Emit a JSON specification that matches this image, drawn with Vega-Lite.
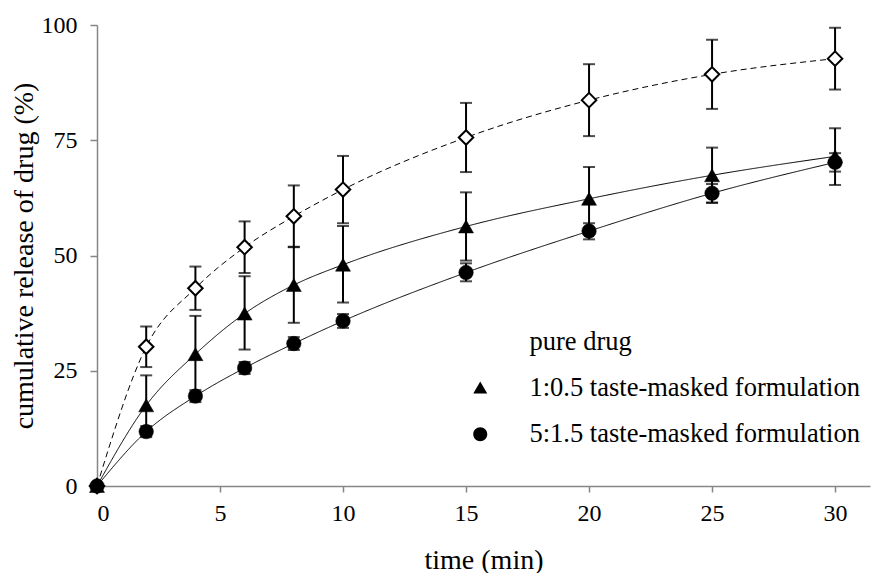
{
  "$schema": "https://vega.github.io/schema/vega-lite/v6.json",
  "width": 773,
  "height": 461,
  "autosize": {"type": "none"},
  "padding": {"left": 97, "top": 25, "right": 2, "bottom": 87},
  "background": "white",
  "config": {
    "view": {"stroke": null},
    "font": "Liberation Serif",
    "axis": {
      "grid": false,
      "domainColor": "#868686",
      "domainWidth": 1.5,
      "tickColor": "#868686",
      "tickWidth": 1.5,
      "labelFont": "Liberation Serif",
      "labelFontSize": 24,
      "labelColor": "black",
      "titleFont": "Liberation Serif",
      "titleFontSize": 28,
      "titleFontWeight": "normal",
      "titleColor": "black"
    },
    "legend": {
      "orient": "none", "legendX": 370, "legendY": 304,
      "title": null, "padding": 0,
      "labelFont": "Liberation Serif", "labelFontSize": 26.5, "labelColor": "black",
      "labelOffset": 36, "rowPadding": 19, "symbolSize": 196, "labelLimit": 600,
      "symbolStrokeWidth": 1.2, "symbolStrokeColor": "black", "symbolOpacity": 1
    }
  },
  "data": {
    "values": [
      {"series": "pure drug", "time": 0, "mean": 0, "lo": 0, "hi": 0},
      {"series": "pure drug", "time": 2, "mean": 30.2, "lo": 25.8, "hi": 34.6},
      {"series": "pure drug", "time": 4, "mean": 42.9, "lo": 38.2, "hi": 47.6},
      {"series": "pure drug", "time": 6, "mean": 51.8, "lo": 46.2, "hi": 57.4},
      {"series": "pure drug", "time": 8, "mean": 58.5, "lo": 51.8, "hi": 65.2},
      {"series": "pure drug", "time": 10, "mean": 64.3, "lo": 57.0, "hi": 71.6},
      {"series": "pure drug", "time": 15, "mean": 75.6, "lo": 68.1, "hi": 83.1},
      {"series": "pure drug", "time": 20, "mean": 83.7, "lo": 75.9, "hi": 91.5},
      {"series": "pure drug", "time": 25, "mean": 89.3, "lo": 81.8, "hi": 96.8},
      {"series": "pure drug", "time": 30, "mean": 92.7, "lo": 86.0, "hi": 99.4},
      {"series": "1:0.5 taste-masked formulation", "time": 0, "mean": 0, "lo": 0, "hi": 0},
      {"series": "1:0.5 taste-masked formulation", "time": 2, "mean": 17.5, "lo": 11.0, "hi": 24.0},
      {"series": "1:0.5 taste-masked formulation", "time": 4, "mean": 28.6, "lo": 20.3, "hi": 36.9},
      {"series": "1:0.5 taste-masked formulation", "time": 6, "mean": 37.4, "lo": 29.6, "hi": 45.5},
      {"series": "1:0.5 taste-masked formulation", "time": 8, "mean": 43.6, "lo": 35.4, "hi": 51.9},
      {"series": "1:0.5 taste-masked formulation", "time": 10, "mean": 48.0, "lo": 39.8, "hi": 56.4},
      {"series": "1:0.5 taste-masked formulation", "time": 15, "mean": 56.3, "lo": 48.9, "hi": 63.7},
      {"series": "1:0.5 taste-masked formulation", "time": 20, "mean": 62.3, "lo": 55.3, "hi": 69.2},
      {"series": "1:0.5 taste-masked formulation", "time": 25, "mean": 67.4, "lo": 61.4, "hi": 73.4},
      {"series": "1:0.5 taste-masked formulation", "time": 30, "mean": 71.5, "lo": 65.3, "hi": 77.6},
      {"series": "5:1.5 taste-masked formulation", "time": 0, "mean": 0, "lo": 0, "hi": 0},
      {"series": "5:1.5 taste-masked formulation", "time": 2, "mean": 11.8, "lo": 10.6, "hi": 13.0},
      {"series": "5:1.5 taste-masked formulation", "time": 4, "mean": 19.5, "lo": 18.2, "hi": 20.8},
      {"series": "5:1.5 taste-masked formulation", "time": 6, "mean": 25.6, "lo": 24.3, "hi": 26.9},
      {"series": "5:1.5 taste-masked formulation", "time": 8, "mean": 30.9, "lo": 29.5, "hi": 32.3},
      {"series": "5:1.5 taste-masked formulation", "time": 10, "mean": 35.8, "lo": 34.3, "hi": 37.3},
      {"series": "5:1.5 taste-masked formulation", "time": 15, "mean": 46.3, "lo": 44.4, "hi": 48.3},
      {"series": "5:1.5 taste-masked formulation", "time": 20, "mean": 55.3, "lo": 53.5, "hi": 57.0},
      {"series": "5:1.5 taste-masked formulation", "time": 25, "mean": 63.5, "lo": 61.5, "hi": 65.5},
      {"series": "5:1.5 taste-masked formulation", "time": 30, "mean": 70.2, "lo": 68.2, "hi": 72.2}
    ]
  },
  "layer": [
    {
      "mark": {"type": "point", "filled": true, "size": 0, "stroke": "black", "strokeWidth": 1.2, "opacity": 1},
      "encoding": {
        "x": {
          "field": "time", "type": "quantitative",
          "title": "time (min)",
          "scale": {"domain": [0, 31.42], "nice": false, "zero": false},
          "axis": {
            "values": [0, 5, 10, 15, 20, 25, 30],
            "tickSize": 6, "labelPadding": 9,
            "title": "time (min)",
            "titleX": 386.5, "titleY": 74, "titleAlign": "center", "titleBaseline": "middle"
          }
        },
        "y": {
          "field": "mean", "type": "quantitative",
          "title": "cumulative release of drug (%)",
          "scale": {"domain": [0, 100], "nice": false},
          "axis": {
            "values": [0, 25, 50, 75, 100],
            "tickSize": 7, "labelPadding": 13,
            "titleX": -73, "titleY": 230.5, "titleAngle": -90, "titleAlign": "center", "titleBaseline": "middle"
          }
        },
        "shape": {
          "field": "series", "type": "nominal",
          "scale": {
            "domain": ["pure drug", "1:0.5 taste-masked formulation", "5:1.5 taste-masked formulation"],
            "range": [
              "M-4.2,0H-3.35M-2.65,0H-1.8M-0.9,0L0,-0.85L0.9,0L0,0.85ZM1.8,0H2.65M3.35,0H4.2",
              "M-4.2,0H4.2M0,-0.95L1,0.75L-1,0.75Z",
              "M-4.2,0H4.2M-1,0A1,1 0 1,0 1,0A1,1 0 1,0 -1,0Z"
            ]
          }
        },
        "fill": {
          "field": "series", "type": "nominal",
          "scale": {
            "domain": ["pure drug", "1:0.5 taste-masked formulation", "5:1.5 taste-masked formulation"],
            "range": ["white", "black", "black"]
          }
        }
      }
    },
    {
      "mark": {
        "type": "line", "interpolate": "monotone", "color": "black", "strokeWidth": 1,
        "strokeDash": {"expr": "datum.series === 'pure drug' ? [6, 4] : [1, 0]"}
      },
      "encoding": {
        "x": {"field": "time", "type": "quantitative", "title": "time (min)"},
        "y": {"field": "mean", "type": "quantitative", "title": "cumulative release of drug (%)"},
        "detail": {"field": "series"}
      }
    },
    {
      "mark": {"type": "rule", "color": "black", "strokeWidth": 2},
      "encoding": {
        "x": {"field": "time", "type": "quantitative", "title": "time (min)"},
        "y": {"field": "lo", "type": "quantitative", "title": "cumulative release of drug (%)"},
        "y2": {"field": "hi"}
      }
    },
    {
      "mark": {"type": "tick", "orient": "horizontal", "color": "black", "size": 12, "thickness": 2},
      "encoding": {
        "x": {"field": "time", "type": "quantitative", "title": "time (min)"},
        "y": {"field": "lo", "type": "quantitative", "title": "cumulative release of drug (%)"}
      }
    },
    {
      "mark": {"type": "tick", "orient": "horizontal", "color": "black", "size": 12, "thickness": 2},
      "encoding": {
        "x": {"field": "time", "type": "quantitative", "title": "time (min)"},
        "y": {"field": "hi", "type": "quantitative", "title": "cumulative release of drug (%)"}
      }
    },
    {
      "mark": {
        "type": "point", "filled": true, "stroke": "black", "opacity": 1,
        "shape": {"expr": "datum.series === 'pure drug' ? 'diamond' : datum.series === '1:0.5 taste-masked formulation' ? 'triangle-up' : 'circle'"},
        "fill": {"expr": "datum.series === 'pure drug' ? 'white' : 'black'"},
        "size": {"expr": "datum.series === 'pure drug' ? 210 : datum.series === '1:0.5 taste-masked formulation' ? 225 : 210"},
        "strokeWidth": {"expr": "datum.series === 'pure drug' ? 2 : 0.5"}
      },
      "encoding": {
        "x": {"field": "time", "type": "quantitative", "title": "time (min)"},
        "y": {"field": "mean", "type": "quantitative", "title": "cumulative release of drug (%)"}
      }
    }
  ]
}
